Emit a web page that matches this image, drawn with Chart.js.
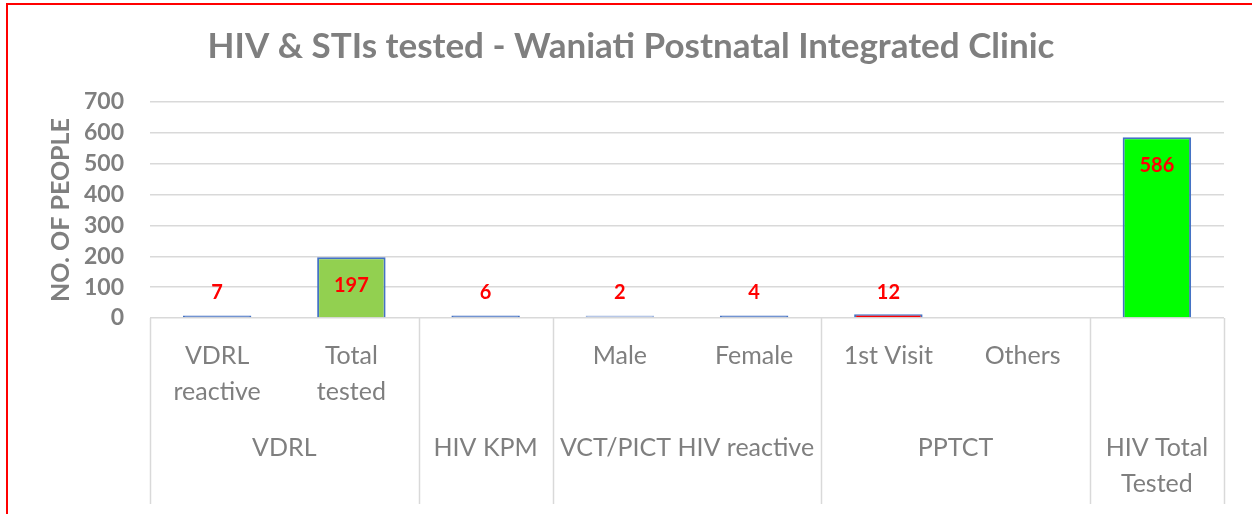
<!DOCTYPE html>
<html lang="en">
<head>
    <meta charset="UTF-8">
    <title>HIV &amp; STIs tested - Waniati Postnatal Integrated Clinic</title>
    <script src="https://cdn.jsdelivr.net/npm/chart.js"></script>
    <style>
        html, body {
            margin: 0;
            padding: 0;
            background: #fff;
            overflow: hidden;
        }

        .frame {
            position: absolute;
            left: 6px;
            top: 3px;
            width: 1246px;
            height: 511px;
            box-sizing: border-box;
            border-top: 2px solid #ff0000;
            border-left: 2px solid #ff0000;
        }

        .chart-box {
            position: relative;
            width: 1244px;
            height: 509px;
        }
    </style>
</head>

<body>
    <div class="frame">
        <div class="chart-box">
            <canvas id="testsChart"></canvas>
        </div>
    </div>
    <script>
        // Dados do gráfico
        const subLabels = [['VDRL', 'reactive'], ['Total', 'tested'], '', 'Male', 'Female', '1st Visit', 'Others', ''];
        const groupLabels = [['VDRL'], ['HIV KPM'], ['VCT/PICT HIV reactive'], ['PPTCT'], ['HIV Total', 'Tested']];
        const groupSizes = [2, 1, 2, 2, 1];
        const peopleTested = [7, 197, 6, 2, 4, 12, null, 586];
        const yTicks = [0, 100, 200, 300, 400, 500, 600, 700];

        const barFill = ['#4472c4', '#92d050', '#4472c4', '#9fb6e0', '#4472c4', '#ff0000', '#4472c4', '#00ff00'];
        const barBorder = ['#4472c4', '#4472c4', '#4472c4', '#9fb6e0', '#4472c4', '#4472c4', '#4472c4', '#4472c4'];

        const gray = '#7f7f7f';
        const font = 'Lato, "Open Sans", sans-serif';

        // Rótulos de grupo, linhas separadoras e valores
        const groupAxisPlugin = {
            id: 'groupAxis',
            afterDraw(chart) {
                const ctx = chart.ctx;
                const x = chart.scales.x;
                const y = chart.scales.y;
                const area = chart.chartArea;
                const edge = i => {
                    if (i <= 0) return area.left;
                    if (i >= subLabels.length) return area.right;
                    return (x.getPixelForValue(i - 1) + x.getPixelForValue(i)) / 2;
                };

                ctx.save();
                ctx.strokeStyle = '#d9d9d9';
                ctx.lineWidth = 1.5;
                let start = 0;
                const bounds = [0];
                groupSizes.forEach(n => { start += n; bounds.push(start); });
                bounds.forEach(b => {
                    const px = Math.round(edge(b)) + 0.5;
                    ctx.beginPath();
                    ctx.moveTo(px, area.bottom);
                    ctx.lineTo(px, area.bottom + 186);
                    ctx.stroke();
                });

                ctx.fillStyle = gray;
                ctx.font = '25px ' + font;
                ctx.textAlign = 'center';
                ctx.textBaseline = 'middle';
                groupLabels.forEach((lines, g) => {
                    const cx = (edge(bounds[g]) + edge(bounds[g + 1])) / 2;
                    lines.forEach((line, k) => {
                        ctx.fillText(line, cx, area.bottom + 130 + k * 36);
                    });
                });

                const meta = chart.getDatasetMeta(0);
                const base = y.getPixelForValue(0);
                ctx.fillStyle = '#ff0000';
                ctx.font = 'bold 20px ' + font;
                meta.data.forEach((bar, i) => {
                    const v = peopleTested[i];
                    if (v === null || v === undefined) return;
                    const ly = Math.min(bar.y + 28, base - 25);
                    ctx.fillText(String(v), bar.x, ly);
                });
                ctx.restore();
            }
        };

        const ctx = document.getElementById('testsChart').getContext('2d');
        new Chart(ctx, {
            type: 'bar',
            data: {
                labels: subLabels,
                datasets: [{
                    label: 'No. of people',
                    data: peopleTested,
                    backgroundColor: barFill,
                    borderColor: barBorder,
                    borderWidth: 2,
                    minBarLength: 2.5,
                    barPercentage: 0.51,
                    categoryPercentage: 1
                }]
            },
            options: {
                responsive: true,
                maintainAspectRatio: false,
                animation: false,
                layout: {
                    padding: { left: 2, right: 0, top: 0, bottom: 0 }
                },
                plugins: {
                    legend: { display: false },
                    tooltip: { enabled: false },
                    title: {
                        display: true,
                        text: 'HIV & STIs tested - Waniati Postnatal Integrated Clinic',
                        color: gray,
                        font: { family: font, size: 35, weight: 'bold', lineHeight: 1.2 },
                        padding: { top: 21, bottom: 34 }
                    }
                },
                scales: {
                    x: {
                        grid: { display: false },
                        border: { display: false },
                        ticks: {
                            color: gray,
                            font: { family: font, size: 25, lineHeight: 1.44 },
                            autoSkip: false,
                            maxRotation: 0,
                            minRotation: 0,
                            padding: 12
                        },
                        afterFit: s => { s.height = 196; }
                    },
                    y: {
                        min: 0,
                        max: 700,
                        afterBuildTicks: s => { s.ticks = yTicks.map(v => ({ value: v })); },
                        grid: { color: '#d9d9d9', lineWidth: 1.5, drawTicks: false },
                        border: { display: false },
                        ticks: {
                            color: gray,
                            font: { family: font, size: 23, weight: 'bold' },
                            padding: 26
                        },
                        title: {
                            display: true,
                            text: 'NO. OF PEOPLE',
                            color: gray,
                            font: { family: font, size: 25, weight: 'bold', lineHeight: 1.2 },
                            padding: { top: 36, bottom: 0 }
                        },
                        afterFit: s => { s.width = 140; }
                    },
                    yRight: {
                        position: 'right',
                        display: true,
                        grid: { display: false },
                        border: { display: false },
                        ticks: { display: false },
                        afterFit: s => { s.width = 28; }
                    }
                }
            },
            plugins: [groupAxisPlugin]
        });
    </script>
</body>

</html>
